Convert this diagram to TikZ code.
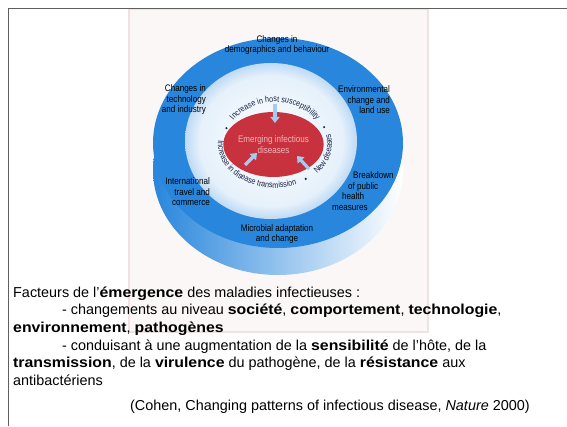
\documentclass[tikz,border=0pt]{standalone}
\usepackage{fontspec}
\setmainfont{Liberation Sans}[BoldFeatures={FakeStretch=1.1}]
\newfontfamily\discfont{Liberation Sans}[FakeStretch=0.85]
\usetikzlibrary{arrows.meta, shapes.geometric, decorations.text}
\definecolor{discblue}{RGB}{40,134,220}
\definecolor{diseasered}{RGB}{200,50,62}
\definecolor{diseasetext}{RGB}{240,180,185}
\definecolor{arrowblue}{RGB}{160,205,240}
\definecolor{arcnavy}{RGB}{25,35,70}
\definecolor{photobg}{RGB}{250,247,246}
\definecolor{photoedge}{RGB}{242,225,228}
\definecolor{framegray}{RGB}{95,95,95}
% pale halo round the red core, fading out into the disc blue
% (the path's rim sits at about 35bp of the shading)
\pgfdeclareradialshading{ringglow}{\pgfpoint{0bp}{0bp}}{color(0bp)=(white); color(21bp)=(white!88!discblue); color(26bp)=(white!65!discblue); color(35bp)=(discblue); color(50bp)=(discblue)}

\begin{document}
\begin{tikzpicture}[x=1pt, y=1pt,
  disclabel/.style={font=\discfont\fontsize{9.5}{10.5}\selectfont, inner sep=0pt},
  arctext/.style={decorate, decoration={text along path, text align=center,
    text={|\discfont\fontsize{8.5}{8.5}\selectfont\color{arcnavy}|#1}}},
  flowarrow/.style={arrowblue, line width=3.2pt, -{Triangle[width=9pt,length=6pt]}},
  arcdot/.style={fill=arcnavy},
  slideline/.style={anchor=base west, inner sep=0pt, font=\fontsize{14.4}{17}\selectfont}]
\useasboundingbox (0,0) rectangle (567,426);

% scanned figure
\draw[photoedge, line width=1.5pt, fill=photobg] (129,94) rectangle (428,417);

% the disc: side first, then top face, halo and core
\shade[left color=discblue, middle color=discblue!45!white, right color=white] (278,256) ellipse[x radius=125, y radius=105];
\fill[discblue] (278,283) ellipse[x radius=125, y radius=105];
\shade[shading=ringglow] (271,285) ellipse[x radius=86, y radius=78];
\node[ellipse, fill=diseasered, minimum width=83, minimum height=65, inner sep=0pt,
  disclabel, text=diseasetext, align=center] (core) at (273.5,281.5) {Emerging infectious\\diseases};

% words running round the core
\path[arctext=Increase in host susceptibility]
  (275,282) ++(152:50 and 42) arc[start angle=152, end angle=28, x radius=50, y radius=42];
\path[arctext=Increase in disease transmission]
  (275,282) ++(164:57 and 44) arc[start angle=164, end angle=302, x radius=57, y radius=44];
\path[arctext=New diseases]
  (275,282) ++(-50:57 and 44) arc[start angle=-50, end angle=22, x radius=57, y radius=44];
\fill[arcdot] (275,282) ++(159:52 and 44) circle[radius=1.2];
\fill[arcdot] (275,282) ++(22:53 and 45) circle[radius=1.2];
\fill[arcdot] (275,282) ++(-56:55 and 42) circle[radius=1.2];

% arrows into the core
\coordinate (hostTail) at (275,322);
\coordinate (hostHead) at (275,303);
\coordinate (transTail) at (245,261);
\coordinate (transHead) at (257,273);
\coordinate (newTail) at (309,257);
\coordinate (newHead) at (297,270);
\draw[flowarrow] (hostTail) -- (hostHead);
\draw[flowarrow] (transTail) -- (transHead);
\draw[flowarrow] (newTail) -- (newHead);

% factors on the outer ring
\node[disclabel, align=center] (demog) at (277,381) {Changes in\\demographics and behaviour};
\node[disclabel, align=right, anchor=east] (techno) at (206,326) {Changes in\\technology\\and industry};
\node[disclabel, align=right, anchor=east] (environ) at (390,326) {Environmental\\change and\\land use};
\node[disclabel, align=right, anchor=east] (travel) at (210,234) {International\\travel and\\commerce};
\node[disclabel, align=left, anchor=west] (health) at (332,235) {\hspace*{21pt}Breakdown\\\hspace*{16pt}of public\\\hspace*{10pt}health\\measures};
\node[disclabel, align=center] (microbe) at (277,192) {Microbial adaptation\\and change};

% slide text
\node[slideline] (line1) at (13,129) {Facteurs de l’\textbf{émergence} des maladies infectieuses :};
\node[slideline] (line2) at (62,111.5) {- changements au niveau \textbf{société}, \textbf{comportement}, \textbf{technologie},};
\node[slideline] (line3) at (13,94) {\textbf{environnement}, \textbf{pathogènes}};
\node[slideline] (line4) at (62,76) {- conduisant à une augmentation de la \textbf{sensibilité} de l’hôte, de la};
\node[slideline] (line5) at (13,58.5) {\textbf{transmission}, de la \textbf{virulence} du pathogène, de la \textbf{résistance} aux};
\node[slideline] (line6) at (13,41) {antibactériens};
\node[slideline] (cite) at (130,16) {(Cohen, Changing patterns of infectious disease, \textit{Nature} 2000)};

% slide frame
\draw[framegray, line width=1.3pt] (8.5,0) -- (8.5,417.5) -- (567,417.5);
\end{tikzpicture}
\end{document}
